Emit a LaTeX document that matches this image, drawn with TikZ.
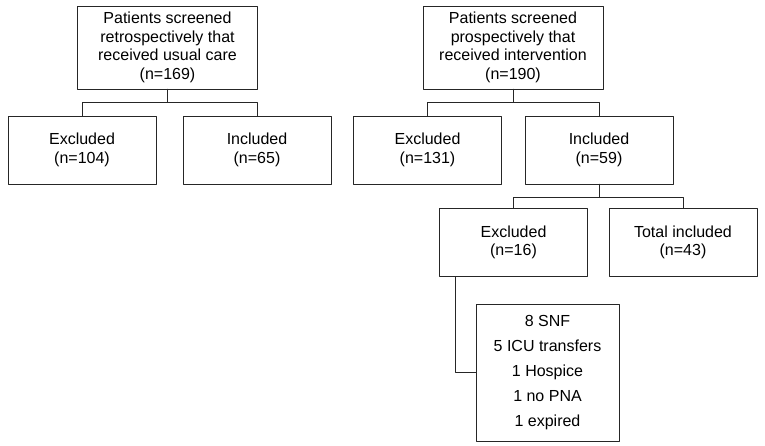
\documentclass[tikz,border=0pt]{standalone}
\usepackage{fontspec}
\setmainfont{Liberation Sans}
\usepackage{tikz}

\begin{document}
\begin{tikzpicture}[x=1pt, y=1pt, line cap=round, line join=round,
    flowbox/.style={draw=black!85, line width=0.7pt, align=center, inner sep=0pt,
        font=\fontsize{16}{18.5}\selectfont, text=black},
    bigbox/.style={flowbox, minimum width=180pt, minimum height=83pt},
    smallbox/.style={flowbox, minimum width=148pt, minimum height=68pt},
    link/.style={draw=black!85, line width=0.7pt}]

                \useasboundingbox (0,0) rectangle (765,446);

                % usual care arm
                \node[bigbox] (usual) at (167.5, 398.5) {Patients screened\\retrospectively that\\received usual care\\(n=169)};
                \node[smallbox] (exclA) at (82, 296) {Excluded\\(n=104)};
                \node[smallbox] (inclA) at (257, 296) {Included\\(n=65)};

                % intervention arm
                \node[bigbox] (interv) at (513, 398.5) {Patients screened\\prospectively that\\received intervention\\(n=190)};
                \node[smallbox] (exclB) at (427.5, 296) {Excluded\\(n=131)};
                \node[smallbox] (inclB) at (599, 296) {Included\\(n=59)};
                \node[smallbox] (exclC) at (513.5, 203.5) {Excluded\\(n=16)};
                \node[smallbox] (total) at (683, 203.5) {Total included\\(n=43)};
                \node[flowbox, minimum width=143pt, minimum height=137pt,
                      font=\fontsize{16}{25}\selectfont] (reasons) at (547.5, 73.5)
                      {8 SNF\\5 ICU transfers\\1 Hospice\\1 no PNA\\1 expired};

                \draw[link] (usual.south) -- ++(0,-13) -| (exclA.north);
                \draw[link] (usual.south) -- ++(0,-13) -| (inclA.north);
                \draw[link] (interv.south) -- ++(0,-13) -| (exclB.north);
                \draw[link] (interv.south) -- ++(0,-13) -| (inclB.north);
                \draw[link] (inclB.south) -- ++(0,-13) -| (exclC.north);
                \draw[link] (inclB.south) -- ++(0,-13) -| (total.north);
                \draw[link] ([xshift=16pt]exclC.south west) |- (reasons.west);

            \end{tikzpicture}
\end{document}
